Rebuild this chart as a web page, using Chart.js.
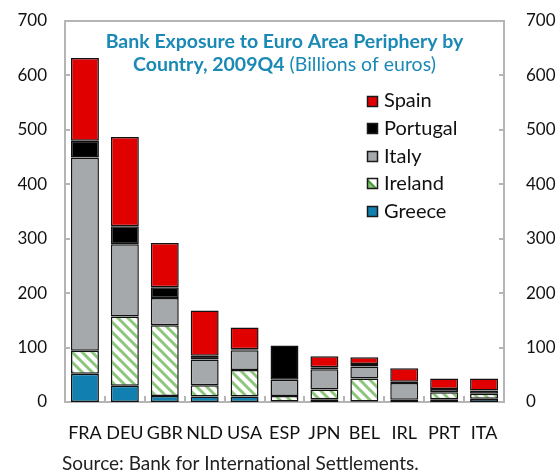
<!DOCTYPE html>
<html><head><meta charset="utf-8">
<script src="https://cdn.jsdelivr.net/npm/chart.js@4"></script>
<style>html,body{margin:0;padding:0;background:#fff}#c{display:block}</style>
</head><body>
<canvas id="c" width="556" height="473"></canvas>
<script>
const categories = ['FRA','DEU','GBR','NLD','USA','ESP','JPN','BEL','IRL','PRT','ITA'];
const greece   = [52, 30, 11, 10, 10, 1, 5, 1, 4, 5, 6];
const ireland  = [42, 127, 130, 21, 49, 10, 18, 42, 0, 13, 9];
const italy    = [355, 133, 50, 47, 36, 30, 37, 22, 31, 6, 0];
const portugal = [31, 33, 20, 7, 2, 63, 4, 5, 2, 0, 6];
const spain    = [152, 164, 81, 83, 40, 0, 20, 12, 25, 19, 22];
const yTicks = [0,100,200,300,400,500,600,700];
const titleLine1 = 'Bank Exposure to Euro Area Periphery by';
const titleLine2Bold = 'Country, 2009Q4';
const titleLine2Rest = ' (Billions of euros)';
const sourceText = 'Source: Bank for International Settlements.';

const FONT = 'Lato, "Open Sans", sans-serif';
const GREEN = '#8cc67a';

function hatch(){
  const p = document.createElement('canvas'); p.width = 10; p.height = 10;
  const g = p.getContext('2d');
  g.fillStyle = '#fff'; g.fillRect(0,0,10,10);
  g.strokeStyle = GREEN; g.lineWidth = 3;
  g.beginPath();
  g.moveTo(-5,5); g.lineTo(5,15);
  g.moveTo(0,0); g.lineTo(10,10);
  g.moveTo(5,-5); g.lineTo(15,5);
  g.stroke();
  return g.createPattern(p,'repeat');
}
const ctx0 = document.getElementById('c').getContext('2d');
const hatchPat = hatch();

const common = {borderColor:'#111', borderWidth:1.5, borderSkipped:false, barPercentage:0.7, categoryPercentage:1.0};
const datasets = [
  Object.assign({label:'Greece', data:greece, backgroundColor:'#1180b0'}, common),
  Object.assign({label:'Ireland', data:ireland, backgroundColor:hatchPat, legendKind:'hatch'}, common),
  Object.assign({label:'Italy', data:italy, backgroundColor:'#a6a9ac'}, common),
  Object.assign({label:'Portugal', data:portugal, backgroundColor:'#000000'}, common),
  Object.assign({label:'Spain', data:spain, backgroundColor:'#e00000'}, common)
];

const framePlugin = {
  id:'frame',
  beforeDatasetsDraw(chart){
    const {ctx, chartArea:a} = chart;
    ctx.save();
    ctx.strokeStyle = '#b5b5b5'; ctx.lineWidth = 2;
    ctx.strokeRect(a.left, a.top, a.right - a.left, a.bottom - a.top);
    ctx.lineWidth = 2;
    const y = chart.scales.y, x = chart.scales.x;
    yTicks.forEach(v=>{
      const py = Math.round(y.getPixelForValue(v));
      ctx.beginPath(); ctx.moveTo(a.left, py); ctx.lineTo(a.left+5, py); ctx.stroke();
      ctx.beginPath(); ctx.moveTo(a.right, py); ctx.lineTo(a.right-5, py); ctx.stroke();
    });
    const half = (x.getPixelForValue(1) - x.getPixelForValue(0))/2;
    for (let i=1;i<categories.length;i++){
      const px = Math.round(x.getPixelForValue(i) - half);
      ctx.beginPath(); ctx.moveTo(px, a.bottom); ctx.lineTo(px, a.bottom-6); ctx.stroke();
    }
    ctx.restore();
  },
  afterDraw(chart){
    const {ctx, chartArea:a} = chart;
    ctx.save();
    const cx = (a.left + a.right)/2;
    ctx.fillStyle = '#1a89b5';
    ctx.textBaseline = 'middle';
    ctx.font = 'bold 19.5px ' + FONT;
    ctx.textAlign = 'center';
    ctx.fillText(titleLine1, cx, 42);
    const wB = ctx.measureText(titleLine2Bold).width;
    ctx.font = '19.5px ' + FONT;
    const wR = ctx.measureText(titleLine2Rest).width;
    const sx = cx - (wB + wR)/2;
    ctx.textAlign = 'left';
    ctx.font = 'bold 19.5px ' + FONT;
    ctx.fillText(titleLine2Bold, sx, 65);
    ctx.font = '19.5px ' + FONT;
    ctx.fillText(titleLine2Rest, sx + wB, 65);
    const ds = chart.data.datasets.slice().reverse();
    ds.forEach((d,i)=>{
      const yc = 101 + i*27.6;
      const bx = 367, by = Math.round(yc - 5.5);
      if (d.legendKind === 'hatch'){
        ctx.fillStyle = '#fff'; ctx.fillRect(bx,by,11,11);
        ctx.fillStyle = '#4a9a3a';
        ctx.beginPath(); ctx.moveTo(bx,by); ctx.lineTo(bx,by+11); ctx.lineTo(bx+11,by+11); ctx.closePath(); ctx.fill();
        ctx.fillStyle = GREEN;
        ctx.beginPath(); ctx.moveTo(bx,by+3); ctx.lineTo(bx,by+11); ctx.lineTo(bx+8,by+11); ctx.closePath(); ctx.fill();
      } else {
        ctx.fillStyle = d.backgroundColor; ctx.fillRect(bx,by,11,11);
      }
      ctx.strokeStyle = '#1a1a1a'; ctx.lineWidth = 1.5;
      ctx.strokeRect(bx+0.5,by+0.5,10,10);
      ctx.fillStyle = '#111';
      ctx.font = '20px ' + FONT;
      ctx.textAlign = 'left';
      ctx.fillText(d.label, 384, yc);
    });
    ctx.fillStyle = '#222';
    ctx.font = '19px ' + FONT;
    ctx.textAlign = 'left';
    ctx.fillText(sourceText, 62, 464);
    ctx.restore();
  }
};

function fixV(w){ return function(s){ s.width = w; s.paddingTop = 10; s.paddingBottom = 10; }; }
const tickFont = {family: FONT, size: 17};
new Chart(ctx0, {
  type:'bar',
  data:{labels:categories, datasets},
  options:{
    responsive:false, animation:false, devicePixelRatio:1,
    layout:{padding:{top:21, left:0, right:0, bottom:0}},
    plugins:{legend:{display:false}, tooltip:{enabled:false}, title:{display:false}},
    scales:{
      x:{stacked:true, grid:{display:false, drawTicks:false}, border:{display:false},
         ticks:{font:{family:FONT, size:18}, color:'#111', padding:20, maxRotation:0, autoSkip:false},
         afterFit(s){ s.height = 71; s.paddingLeft = 0; s.paddingRight = 0; }},
      y:{stacked:true, position:'left', min:0, max:700, grid:{display:false, drawTicks:false}, border:{display:false},
         ticks:{stepSize:100, font:tickFont, color:'#111', padding:18},
         afterFit: fixV(65)},
      y2:{position:'right', min:0, max:700, grid:{display:false, drawTicks:false}, border:{display:false},
         ticks:{stepSize:100, font:tickFont, color:'#111', padding:22},
         afterFit: fixV(52)}
    }
  },
  plugins:[framePlugin]
});
</script>
</body></html>
